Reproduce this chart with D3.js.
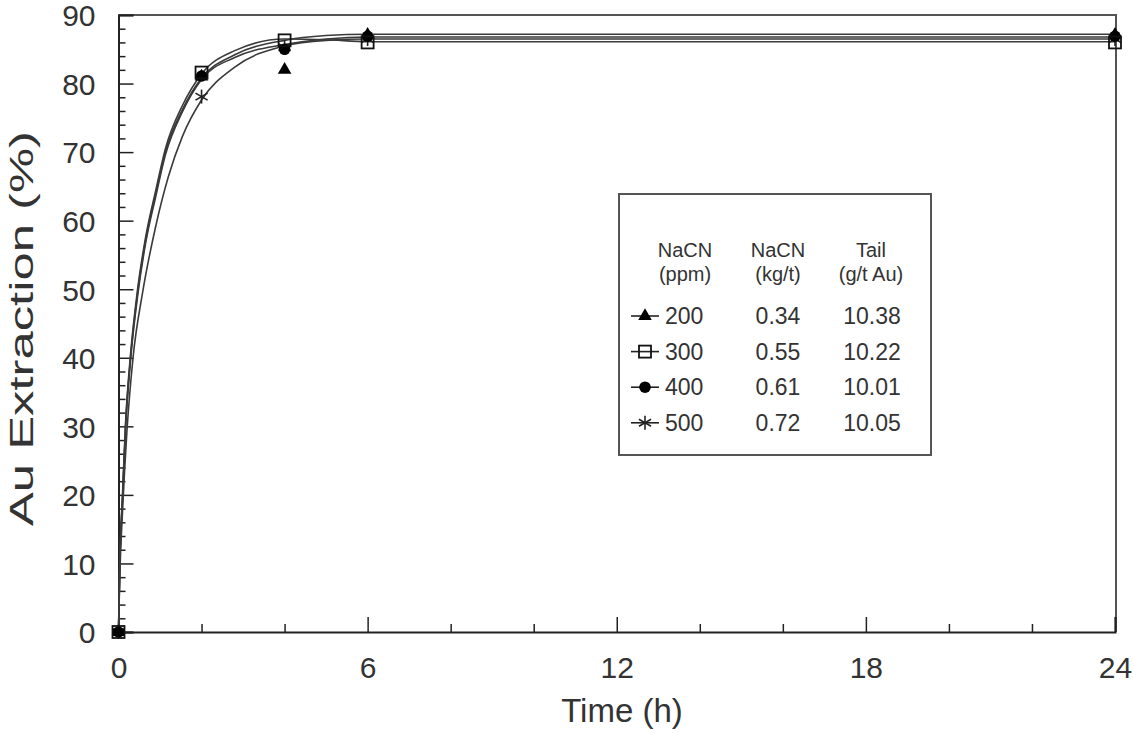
<!DOCTYPE html>
<html>
<head>
<meta charset="utf-8">
<script src="https://cdn.jsdelivr.net/npm/d3@7"></script>
<style>
  html, body { margin: 0; padding: 0; background: #fff; }
  svg { display: block; }
  text { font-family: "Liberation Sans", Arial, sans-serif; fill: #333; }
</style>
</head>
<body>
<svg id="chart" width="1133" height="733"></svg>
<script>
// ---- data ----
const seriesNames = ["200", "300", "400", "500"];
const kgPerT = ["0.34", "0.55", "0.61", "0.72"];
const tailAu = ["10.38", "10.22", "10.01", "10.05"];
const markerTypes = ["triangle", "square", "circle", "star"];

// measured points [time h, extraction %]
const pts200 = [[0, 0], [2, 81], [4, 82], [6, 87.1], [24, 87.1]];
const pts300 = [[0, 0], [2, 81.6], [4, 86.3], [6, 86.0], [24, 86.0]];
const pts400 = [[0, 0], [2, 81.1], [4, 85.0], [6, 86.9], [24, 86.9]];
const pts500 = [[0, 0], [2, 78.1], [4, 85.3], [6, 86.5], [24, 86.5]];

// fitted curves
const fit200 = [[0, 0], [0.03, 9.5], [0.1, 20], [0.17, 30], [0.29, 40], [0.46, 49.5], [0.65, 57], [0.9, 64], [1.13, 70], [1.54, 76.2], [2, 80.8], [2.8, 84.2], [4, 86.3], [5, 87.0], [6, 87.2], [24, 87.2]];
const fit300 = [[0, 0], [0.03, 9.8], [0.1, 20.5], [0.17, 30.5], [0.29, 40.5], [0.46, 50], [0.65, 57.5], [0.9, 64.5], [1.13, 70.5], [1.54, 76.8], [2, 81.4], [2.8, 84.8], [4, 86.5], [5, 86.4], [6, 86.1], [24, 86.1]];
const fit400 = [[0, 0], [0.03, 9.3], [0.1, 19.7], [0.17, 29.6], [0.29, 39.6], [0.46, 49], [0.65, 56.6], [0.9, 63.6], [1.13, 69.6], [1.54, 75.9], [2, 80.6], [2.8, 83.8], [4, 85.7], [5, 86.5], [6, 86.8], [24, 86.8]];
const fit500 = [[0, 0], [0.03, 8], [0.1, 18], [0.2, 29], [0.35, 40], [0.58, 49.5], [0.89, 59], [1.2, 66.4], [1.54, 72.3], [2, 77.6], [2.8, 82.4], [4, 85.5], [5, 86.3], [6, 86.5], [24, 86.5]];

const xMajor = [0, 6, 12, 18, 24];
const xMinor = [2, 4, 8, 10, 14, 16, 20, 22];
const yMajor = [0, 10, 20, 30, 40, 50, 60, 70, 80, 90];
const yMinor = d3.range(2, 90, 2).filter(v => v % 10 !== 0);

const allPts = [pts200, pts300, pts400, pts500];
const allFits = [fit200, fit300, fit400, fit500];

// ---- layout ----
const svg = d3.select("#chart");
const x = d3.scaleLinear().domain([0, 24]).range([118.5, 1115]);
const y = d3.scaleLinear().domain([0, 90]).range([632, 15]);

// frame (top & right)
svg.append("path")
  .attr("d", `M${x(0)},${y(90)}H${x(24) + 1}V${y(0)}`)
  .attr("fill", "none").attr("stroke", "#555").attr("stroke-width", 2);

// axes
const xAxisMajor = d3.axisBottom(x).tickValues(xMajor).tickSize(-15).tickFormat(d => d);
const xAxisMinor = d3.axisBottom(x).tickValues(xMinor).tickSize(-8).tickFormat("");
const yAxisMajor = d3.axisLeft(y).tickValues(yMajor).tickSize(-15).tickFormat(d => d);
const yAxisMinor = d3.axisLeft(y).tickValues(yMinor).tickSize(-7).tickFormat("");

function styleAxis(g) {
  g.select(".domain").attr("stroke", "#222").attr("stroke-width", 2);
  g.selectAll(".tick line").attr("stroke", "#222").attr("stroke-width", 1.5);
  g.selectAll(".tick text").style("font-size", "30px").attr("fill", "#333")
   .style("font-family", '"Liberation Sans", Arial, sans-serif');
}
svg.append("g").attr("transform", `translate(0,${y(0)})`).call(xAxisMinor).call(styleAxis).select(".domain").remove();
const gx = svg.append("g").attr("transform", `translate(0,${y(0)})`).call(xAxisMajor).call(styleAxis);
gx.selectAll(".tick text").attr("y", 46).attr("dy", "0em");
svg.append("g").attr("transform", `translate(${x(0)},0)`).call(yAxisMinor).call(styleAxis).select(".domain").remove();
const gy = svg.append("g").attr("transform", `translate(${x(0)},0)`).call(yAxisMajor).call(styleAxis);
gy.selectAll(".tick text").attr("x", -23).attr("dy", "0.36em");

// axis titles
svg.append("text").attr("x", 622).attr("y", 722).attr("text-anchor", "middle")
  .style("font-size", "33px").text("Time (h)");
svg.append("text").attr("transform", `translate(33,${y(45) + 5}) rotate(-90)`).attr("text-anchor", "middle")
  .attr("textLength", 395).attr("lengthAdjust", "spacingAndGlyphs")
  .style("font-size", "33px").text("Au Extraction (%)");

// curves
const line = d3.line().x(d => x(d[0])).y(d => y(d[1])).curve(d3.curveMonotoneX);
allFits.forEach(f => {
  svg.append("path").attr("d", line(f)).attr("fill", "none")
    .attr("stroke", "#3a3a3a").attr("stroke-width", 1.6);
});

// markers
function drawMarker(g, type, cx, cy) {
  if (type === "triangle") {
    g.append("path").attr("d", d3.symbol(d3.symbolTriangle, 80)()).attr("transform", `translate(${cx},${cy})`)
      .attr("fill", "#000");
  } else if (type === "square") {
    g.append("rect").attr("x", cx - 6).attr("y", cy - 6).attr("width", 12).attr("height", 12)
      .attr("fill", "none").attr("stroke", "#111").attr("stroke-width", 1.8);
  } else if (type === "circle") {
    g.append("circle").attr("cx", cx).attr("cy", cy).attr("r", 5.8).attr("fill", "#000");
  } else {
    const r = 7;
    [90, 30, -30].forEach(a => {
      const rad = a * Math.PI / 180;
      g.append("line").attr("x1", cx - r * Math.cos(rad)).attr("y1", cy - r * Math.sin(rad))
        .attr("x2", cx + r * Math.cos(rad)).attr("y2", cy + r * Math.sin(rad))
        .attr("stroke", "#222").attr("stroke-width", 1.6);
    });
  }
}
const mg = svg.append("g");
[3, 0, 2, 1].forEach(i => {
  allPts[i].forEach(p => drawMarker(mg, markerTypes[i], x(p[0]), y(p[1])));
});

// legend
const lg = svg.append("g");
lg.append("rect").attr("x", 619).attr("y", 194).attr("width", 312).attr("height", 261)
  .attr("fill", "#fff").attr("stroke", "#555").attr("stroke-width", 2);
const headers = [["NaCN", "(ppm)", 685], ["NaCN", "(kg/t)", 778], ["Tail", "(g/t Au)", 871]];
headers.forEach(h => {
  lg.append("text").attr("x", h[2]).attr("y", 257).attr("text-anchor", "middle").style("font-size", "20px").text(h[0]);
  lg.append("text").attr("x", h[2]).attr("y", 281).attr("text-anchor", "middle").style("font-size", "20px").text(h[1]);
});
seriesNames.forEach((s, i) => {
  const by = 324 + i * 35.6;
  const my = by - 8;
  lg.append("line").attr("x1", 631).attr("x2", 659).attr("y1", my).attr("y2", my)
    .attr("stroke", "#222").attr("stroke-width", 1.6);
  drawMarker(lg, markerTypes[i], 645, my);
  lg.append("text").attr("x", 665).attr("y", by).style("font-size", "23px").text(s);
  lg.append("text").attr("x", 778).attr("y", by).attr("text-anchor", "middle").style("font-size", "23px").text(kgPerT[i]);
  lg.append("text").attr("x", 872).attr("y", by).attr("text-anchor", "middle").style("font-size", "23px").text(tailAu[i]);
});
</script>
</body>
</html>
